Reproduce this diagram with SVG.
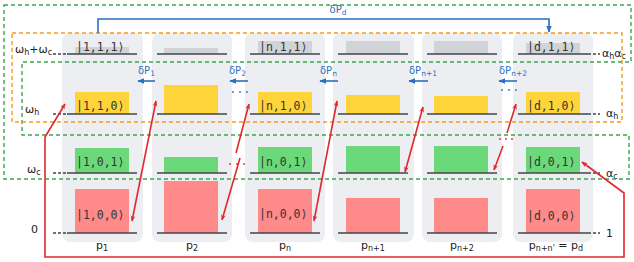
<svg xmlns="http://www.w3.org/2000/svg" width="634" height="262" viewBox="0 0 634 262">
<defs>
<style>
.panel{fill:#eceef2}
.lvl{stroke:#444;stroke-width:1.6}
.ext{stroke:#444;stroke-width:1.4;stroke-dasharray:3 2}
.gray{fill:#d0d3d8}
.yel{fill:#ffd43b}
.grn{fill:#6bd97a}
.red{fill:#ff8a8a}
.ket{font-family:"DejaVu Sans Mono",monospace;font-size:11.5px;fill:#333}
.lbl{font-family:"DejaVu Sans",sans-serif;font-size:11px;fill:#222}
.bl{font-family:"DejaVu Sans",sans-serif;font-size:10px;fill:#2a6fc0}
.blue{stroke:#2a6fc0;stroke-width:1.6;fill:none}
.ra{stroke:#e0282e;stroke-width:1.6;fill:none}
.gd{stroke:#3aa64a;stroke-width:1.4;stroke-dasharray:4 3;fill:none}
.od{stroke:#f39c1f;stroke-width:1.4;stroke-dasharray:4 3;fill:none}
</style>
<marker id="rh" viewBox="0 0 10 10" refX="9" refY="5" markerWidth="6" markerHeight="6" orient="auto-start-reverse" markerUnits="userSpaceOnUse"><path d="M0,1 L10,5 L0,9 L3,5 Z" fill="#e0282e"/></marker>
<marker id="bh" viewBox="0 0 10 10" refX="9" refY="5" markerWidth="7" markerHeight="7" orient="auto-start-reverse" markerUnits="userSpaceOnUse"><path d="M0,1 L10,5 L0,9 Z" fill="#2a6fc0"/></marker>
</defs>

<g id="panels">
<rect class="panel" x="62" y="33" width="81" height="209" rx="8"/>
<rect class="panel" x="152" y="33" width="80" height="209" rx="8"/>
<rect class="panel" x="245" y="33" width="80" height="209" rx="8"/>
<rect class="panel" x="333" y="33" width="81" height="209" rx="8"/>
<rect class="panel" x="422" y="33" width="80" height="209" rx="8"/>
<rect class="panel" x="513" y="33" width="80" height="209" rx="8"/>
</g>

<g id="col1">
<rect class="gray" x="75" y="47" width="54" height="7"/>
<rect class="yel" x="75" y="92" width="54" height="22"/>
<rect class="grn" x="75" y="148" width="54" height="25"/>
<rect class="red" x="75" y="189" width="54" height="44"/>
<line class="lvl" x1="67" y1="54" x2="137" y2="54"/>
<line class="lvl" x1="67" y1="114" x2="137" y2="114"/>
<line class="lvl" x1="67" y1="173" x2="137" y2="173"/>
<line class="lvl" x1="67" y1="233" x2="137" y2="233"/>
<text class="ket" x="76" y="51">|1,1,1⟩</text>
<text class="ket" x="76" y="110">|1,1,0⟩</text>
<text class="ket" x="76" y="166">|1,0,1⟩</text>
<text class="ket" x="76" y="219">|1,0,0⟩</text>
<text class="lbl" x="102" y="249" text-anchor="middle">p<tspan font-size="8" dy="2">1</tspan></text>
</g>

<g id="col2">
<rect class="gray" x="164" y="48" width="54" height="6"/>
<rect class="yel" x="164" y="85" width="54" height="29"/>
<rect class="grn" x="164" y="157" width="54" height="16"/>
<rect class="red" x="164" y="181" width="54" height="52"/>
<line class="lvl" x1="157" y1="54" x2="227" y2="54"/>
<line class="lvl" x1="157" y1="114" x2="227" y2="114"/>
<line class="lvl" x1="157" y1="173" x2="227" y2="173"/>
<line class="lvl" x1="157" y1="233" x2="227" y2="233"/>
<text class="lbl" x="192" y="249" text-anchor="middle">p<tspan font-size="8" dy="2">2</tspan></text>
</g>

<g id="coln">
<rect class="gray" x="258" y="41" width="54" height="13"/>
<rect class="yel" x="258" y="92" width="54" height="22"/>
<rect class="grn" x="258" y="147" width="54" height="26"/>
<rect class="red" x="258" y="189" width="54" height="44"/>
<line class="lvl" x1="250" y1="54" x2="320" y2="54"/>
<line class="lvl" x1="250" y1="114" x2="320" y2="114"/>
<line class="lvl" x1="250" y1="173" x2="320" y2="173"/>
<line class="lvl" x1="250" y1="233" x2="320" y2="233"/>
<text class="ket" x="259" y="51">|n,1,1⟩</text>
<text class="ket" x="259" y="110">|n,1,0⟩</text>
<text class="ket" x="259" y="166">|n,0,1⟩</text>
<text class="ket" x="259" y="218">|n,0,0⟩</text>
<text class="lbl" x="285" y="249" text-anchor="middle">p<tspan font-size="8" dy="2">n</tspan></text>
</g>

<g id="coln1">
<rect class="gray" x="346" y="41" width="54" height="13"/>
<rect class="yel" x="346" y="95" width="54" height="19"/>
<rect class="grn" x="346" y="146" width="54" height="27"/>
<rect class="red" x="346" y="198" width="54" height="35"/>
<line class="lvl" x1="338" y1="54" x2="408" y2="54"/>
<line class="lvl" x1="338" y1="114" x2="408" y2="114"/>
<line class="lvl" x1="338" y1="173" x2="408" y2="173"/>
<line class="lvl" x1="338" y1="233" x2="408" y2="233"/>
<text class="lbl" x="373" y="249" text-anchor="middle">p<tspan font-size="8" dy="2">n+1</tspan></text>
</g>

<g id="coln2">
<rect class="gray" x="434" y="41" width="54" height="13"/>
<rect class="yel" x="434" y="96" width="54" height="18"/>
<rect class="grn" x="434" y="146" width="54" height="27"/>
<rect class="red" x="434" y="198" width="54" height="35"/>
<line class="lvl" x1="427" y1="54" x2="497" y2="54"/>
<line class="lvl" x1="427" y1="114" x2="497" y2="114"/>
<line class="lvl" x1="427" y1="173" x2="497" y2="173"/>
<line class="lvl" x1="427" y1="233" x2="497" y2="233"/>
<text class="lbl" x="462" y="249" text-anchor="middle">p<tspan font-size="8" dy="2">n+2</tspan></text>
</g>

<g id="cold">
<rect class="gray" x="526" y="43" width="54" height="11"/>
<rect class="yel" x="526" y="92" width="54" height="22"/>
<rect class="grn" x="526" y="147" width="54" height="26"/>
<rect class="red" x="526" y="189" width="54" height="44"/>
<line class="lvl" x1="518" y1="54" x2="588" y2="54"/>
<line class="lvl" x1="518" y1="114" x2="588" y2="114"/>
<line class="lvl" x1="518" y1="173" x2="588" y2="173"/>
<line class="lvl" x1="518" y1="233" x2="588" y2="233"/>
<text class="ket" x="527" y="51">|d,1,1⟩</text>
<text class="ket" x="527" y="110">|d,1,0⟩</text>
<text class="ket" x="527" y="166">|d,0,1⟩</text>
<text class="ket" x="527" y="220">|d,0,0⟩</text>
<text class="lbl" x="556" y="249" text-anchor="middle">p<tspan font-size="8" dy="2">n+n'</tspan><tspan dy="-2"> = p</tspan><tspan font-size="8" dy="2">d</tspan></text>
</g>

<g id="axis-labels">
<line class="ext" x1="53" y1="54" x2="67" y2="54"/>
<line class="ext" x1="53" y1="114" x2="67" y2="114"/>
<line class="ext" x1="53" y1="173" x2="67" y2="173"/>
<line class="ext" x1="53" y1="233" x2="67" y2="233"/>
<line class="ext" x1="588" y1="54" x2="600" y2="54"/>
<line class="ext" x1="588" y1="114" x2="600" y2="114"/>
<line class="ext" x1="588" y1="173" x2="600" y2="173"/>
<line class="ext" x1="588" y1="233" x2="600" y2="233"/>
<text class="lbl" x="15" y="53">ω<tspan font-size="8" dy="2">h</tspan><tspan dy="-2">+ω</tspan><tspan font-size="8" dy="2">c</tspan></text>
<text class="lbl" x="25" y="113">ω<tspan font-size="8" dy="2">h</tspan></text>
<text class="lbl" x="27" y="173">ω<tspan font-size="8" dy="2">c</tspan></text>
<text class="lbl" x="31" y="233">0</text>
<text class="lbl" x="602" y="57">α<tspan font-size="8" dy="2">h</tspan><tspan dy="-2">α</tspan><tspan font-size="8" dy="2">c</tspan></text>
<text class="lbl" x="606" y="117">α<tspan font-size="8" dy="2">h</tspan></text>
<text class="lbl" x="606" y="177">α<tspan font-size="8" dy="2">c</tspan></text>
<text class="lbl" x="606" y="237">1</text>
</g>

<g id="subspaces">
<path class="gd" d="M4,5 H631 V62 H22 V135 H629 V179 H4 Z"/>
<rect class="od" x="12" y="33" width="610" height="89"/>
</g>

<g id="connectors">
<path class="blue" d="M98,33 V19 H549 V32" marker-end="url(#bh)"/>
<text class="bl" x="338" y="13" text-anchor="middle">δP<tspan font-size="7.5" dy="2">d</tspan></text>
<line class="blue" x1="155" y1="81" x2="138" y2="81" marker-end="url(#bh)"/>
<text class="bl" x="138" y="74">δP<tspan font-size="7.5" dy="2">1</tspan></text>
<line class="blue" x1="248" y1="81" x2="230" y2="81" marker-end="url(#bh)"/>
<text class="bl" x="229" y="74">δP<tspan font-size="7.5" dy="2">2</tspan></text>
<line class="blue" x1="338" y1="81" x2="320" y2="81" marker-end="url(#bh)"/>
<text class="bl" x="320" y="74">δP<tspan font-size="7.5" dy="2">n</tspan></text>
<line class="blue" x1="428" y1="81" x2="409" y2="81" marker-end="url(#bh)"/>
<text class="bl" x="409" y="74">δP<tspan font-size="7.5" dy="2">n+1</tspan></text>
<line class="blue" x1="517" y1="81" x2="499" y2="81" marker-end="url(#bh)"/>
<text class="bl" x="499" y="74">δP<tspan font-size="7.5" dy="2">n+2</tspan></text>
<g fill="#2a6fc0">
<circle cx="233" cy="92" r="0.9"/><circle cx="240" cy="92" r="0.9"/><circle cx="247" cy="92" r="0.9"/>
<circle cx="502" cy="90" r="0.9"/><circle cx="509" cy="90" r="0.9"/><circle cx="516" cy="90" r="0.9"/>
</g>
<line class="ra" x1="132" y1="221" x2="156" y2="101" marker-start="url(#rh)" marker-end="url(#rh)"/>
<line class="ra" x1="236" y1="153" x2="249" y2="104" marker-end="url(#rh)"/>
<line class="ra" x1="240" y1="158" x2="222" y2="220" marker-end="url(#rh)"/>
<line class="ra" x1="314" y1="221" x2="337" y2="101" marker-start="url(#rh)" marker-end="url(#rh)"/>
<line class="ra" x1="405" y1="172" x2="423" y2="107" marker-start="url(#rh)" marker-end="url(#rh)"/>
<line class="ra" x1="507" y1="133" x2="516" y2="104" marker-end="url(#rh)"/>
<line class="ra" x1="503" y1="146" x2="494" y2="170" marker-end="url(#rh)"/>
<g fill="#e0282e">
<circle cx="230" cy="164" r="0.9"/><circle cx="237" cy="164" r="0.9"/><circle cx="244" cy="164" r="0.9"/>
<circle cx="500" cy="139" r="0.9"/><circle cx="506" cy="139" r="0.9"/><circle cx="512" cy="139" r="0.9"/>
</g>
<path class="ra" d="M65,104 L45,137 V257 H624 V193 L582,162" marker-start="url(#rh)" marker-end="url(#rh)"/>
</g>
</svg>
